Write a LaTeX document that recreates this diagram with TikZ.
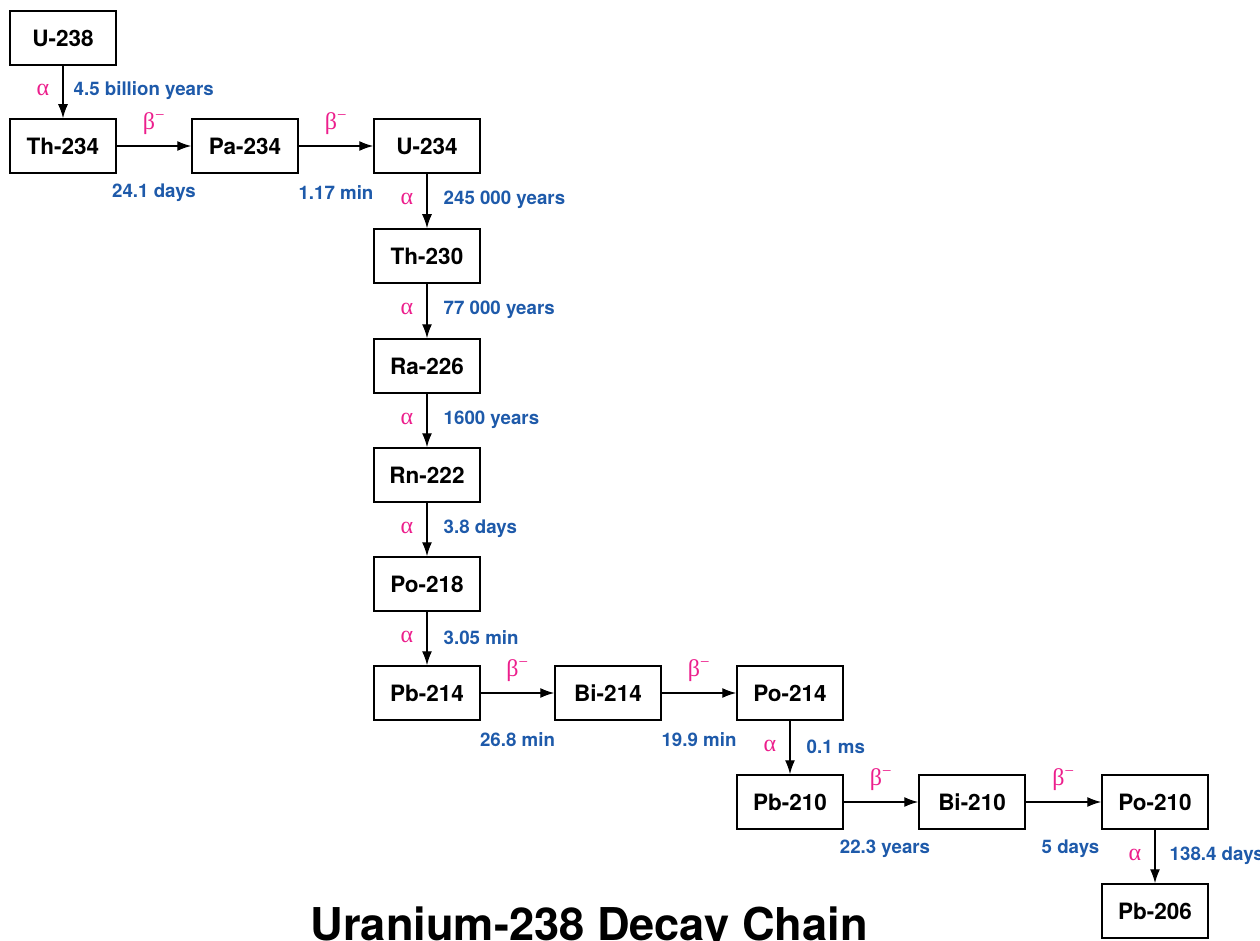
\documentclass[tikz,border=0pt]{standalone}
\usepackage{fontspec}
\setmainfont{TeX Gyre Heros}
\newfontfamily\grk{Liberation Serif}
\usetikzlibrary{arrows.meta}
\definecolor{lblblue}{RGB}{30,90,170}
\definecolor{lblpink}{RGB}{236,30,140}
\newcommand\hdec[4][0pt]{\draw[decay] (#2) -- (#3)
  node[midway,gl,yshift=22pt]{β\textsuperscript{−}}
  node[midway,tl,yshift=-47pt,xshift=#1]{#4};}
\newcommand\vdec[4][16pt]{\draw[decay] (#2) -- (#3)
  node[midway,gl,xshift=-20pt,yshift=2pt]{α}
  node[midway,tl,anchor=west,xshift=#1,yshift=1pt]{#4};}
\begin{document}
\begin{tikzpicture}[x=1pt,y=-1pt,
 iso/.style={draw,line width=1.5pt,minimum width=106pt,minimum height=54pt,inner sep=0pt,font=\fontsize{22.5}{24}\selectfont\bfseries},
 decay/.style={-{Latex[length=14pt,width=10pt]},line width=1.4pt},
 tl/.style={text=lblblue,font=\fontsize{18.7}{20}\selectfont\bfseries,inner sep=0pt},
 gl/.style={text=lblpink,font=\fontsize{24}{26}\grk,inner sep=0pt}]
\useasboundingbox (0,0) rectangle (1260,941);
\node[iso] (u238) at (63,38) {U-238};
\node[iso] (th234) at (63,146) {Th-234};
\node[iso] (pa234) at (245,146) {Pa-234};
\node[iso] (u234) at (427,146) {U-234};
\node[iso] (th230) at (427,256) {Th-230};
\node[iso] (ra226) at (427,366) {Ra-226};
\node[iso] (rn222) at (427,475) {Rn-222};
\node[iso] (po218) at (427,584) {Po-218};
\node[iso] (pb214) at (427,693) {Pb-214};
\node[iso] (bi214) at (608,693) {Bi-214};
\node[iso] (po214) at (790,693) {Po-214};
\node[iso] (pb210) at (790,802) {Pb-210};
\node[iso] (bi210) at (972,802) {Bi-210};
\node[iso] (po210) at (1155,802) {Po-210};
\node[iso] (pb206) at (1155,911) {Pb-206};
\vdec[10pt]{u238}{th234}{4.5 billion years}
\hdec{th234}{pa234}{24.1 days}
\hdec{pa234}{u234}{1.17 min}
\vdec{u234}{th230}{245 000 years}
\vdec{th230}{ra226}{77 000 years}
\vdec{ra226}{rn222}{1600 years}
\vdec{rn222}{po218}{3.8 days}
\vdec{po218}{pb214}{3.05 min}
\hdec{pb214}{bi214}{26.8 min}
\hdec{bi214}{po214}{19.9 min}
\vdec{po214}{pb210}{0.1 ms}
\hdec[4pt]{pb210}{bi210}{22.3 years}
\hdec[7pt]{bi210}{po210}{5 days}
\vdec[14pt]{po210}{pb206}{138.4 days}
\node[anchor=base,font=\fontsize{45.2}{50}\selectfont\bfseries,inner sep=0pt] (title) at (589,940) {Uranium-238 Decay Chain};
\end{tikzpicture}
\end{document}
